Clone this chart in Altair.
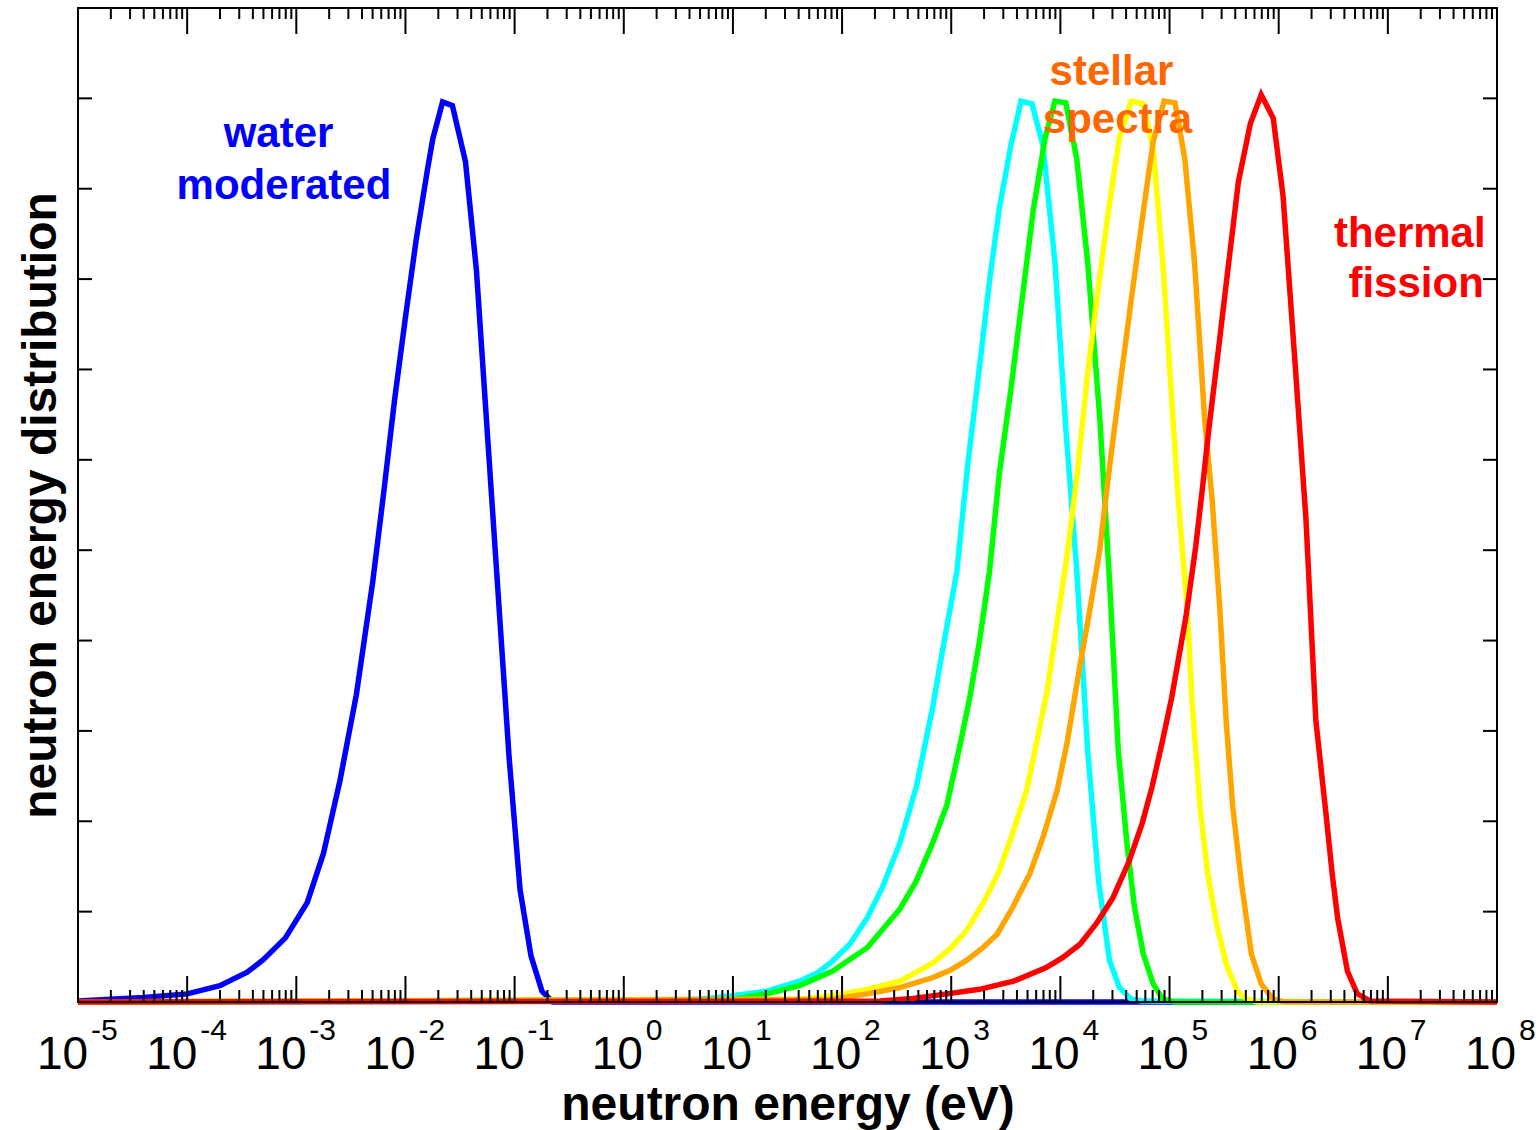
import altair as alt
import pandas as pd

# ---------------- data ----------------
# x values are log10(energy / eV); y values are the normalised distribution
BLUE_LOG = [-5.0, -4.7, -4.4, -4.0, -3.7, -3.45, -3.3, -3.1, -2.9, -2.75,
            -2.6, -2.45, -2.3, -2.2, -2.1, -2.0, -1.9, -1.8, -1.75, -1.66,
            -1.57, -1.45, -1.35, -1.25, -1.15, -1.05, -0.95, -0.85, -0.75, -0.65, 8.0]
BLUE_VAL = [0.001, 0.003, 0.005, 0.009, 0.018, 0.033, 0.047, 0.071, 0.11, 0.165,
            0.245, 0.34, 0.465, 0.563, 0.666, 0.758, 0.845, 0.92, 0.955, 0.996,
            0.992, 0.93, 0.81, 0.63, 0.45, 0.27, 0.124, 0.051, 0.012, 0.0, 0.0]

CYAN_LOG = [-5, 0.39, 0.70, 1.0, 1.31, 1.61, 1.77, 1.91, 2.07, 2.23,
            2.37, 2.53, 2.68, 2.83, 2.92, 3.05, 3.15, 3.26, 3.35, 3.44,
            3.55, 3.64, 3.74, 3.84, 3.95, 4.05, 4.15, 4.25, 4.35, 4.45,
            4.54, 4.65, 4.75, 8]
CYAN_VAL = [0, 0.001, 0.003, 0.007, 0.012, 0.023, 0.032, 0.045, 0.064, 0.093,
            0.127, 0.176, 0.238, 0.326, 0.389, 0.475, 0.593, 0.704, 0.797, 0.878,
            0.95, 0.997, 0.994, 0.948, 0.819, 0.634, 0.478, 0.278, 0.134, 0.046,
            0.016, 0.003, 0.001, 0]

GREEN_LOG = [-5, 1.0, 1.31, 1.61, 1.91, 2.23, 2.53, 2.68, 2.83, 2.96,
             3.08, 3.17, 3.26, 3.35, 3.44, 3.55, 3.65, 3.75, 3.86, 3.95,
             4.05, 4.15, 4.25, 4.36, 4.45, 4.53, 4.61, 4.68, 4.76, 4.85,
             4.94, 5.05, 8]
GREEN_VAL = [0, 0.003, 0.009, 0.018, 0.034, 0.060, 0.103, 0.134, 0.176, 0.218,
             0.284, 0.337, 0.40, 0.476, 0.584, 0.681, 0.778, 0.875, 0.956, 0.997,
             0.995, 0.933, 0.819, 0.648, 0.467, 0.279, 0.175, 0.104, 0.053, 0.020,
             0.003, 0, 0]

YELLOW_LOG = [-5, 1.61, 1.91, 2.23, 2.53, 2.68, 2.83, 2.99, 3.14, 3.29,
              3.44, 3.56, 3.69, 3.78, 3.88, 3.97, 4.06, 4.15, 4.25, 4.34,
              4.44, 4.54, 4.65, 4.76, 4.85, 4.94, 5.03, 5.08, 5.16, 5.21,
              5.28, 5.35, 5.43, 5.52, 5.62, 5.71, 5.81, 8]
YELLOW_VAL = [0, 0.003, 0.007, 0.014, 0.023, 0.033, 0.043, 0.059, 0.079, 0.109,
              0.145, 0.186, 0.234, 0.286, 0.345, 0.42, 0.493, 0.58, 0.696, 0.784,
              0.875, 0.956, 0.997, 0.994, 0.944, 0.815, 0.648, 0.556, 0.437, 0.326,
              0.215, 0.142, 0.087, 0.042, 0.012, 0.003, 0, 0]

ORANGE_LOG = [-5, 1.91, 2.23, 2.53, 2.83, 2.99, 3.14, 3.29, 3.42, 3.56,
              3.72, 3.84, 3.97, 4.06, 4.18, 4.27, 4.36, 4.45, 4.55, 4.65,
              4.76, 4.85, 4.95, 5.05, 5.14, 5.23, 5.32, 5.39, 5.46, 5.52,
              5.58, 5.66, 5.75, 5.84, 5.95, 6.05, 8]
ORANGE_VAL = [0, 0.003, 0.009, 0.016, 0.027, 0.035, 0.046, 0.060, 0.075, 0.104,
              0.142, 0.182, 0.234, 0.286, 0.373, 0.434, 0.50, 0.592, 0.686, 0.778,
              0.875, 0.952, 0.997, 0.995, 0.933, 0.817, 0.648, 0.556, 0.437, 0.309,
              0.215, 0.131, 0.053, 0.020, 0.003, 0, 0]

RED_LOG = [-5, 2.35, 2.65, 2.96, 3.26, 3.57, 3.87, 4.02, 4.18, 4.33,
           4.48, 4.63, 4.75, 4.84, 4.93, 5.02, 5.15, 5.24, 5.30, 5.36,
           5.45, 5.54, 5.63, 5.74, 5.84, 5.95, 6.04, 6.15, 6.25, 6.34,
           6.43, 6.49, 6.54, 6.63, 6.72, 6.84, 8]
RED_VAL = [0, 0.001, 0.004, 0.009, 0.014, 0.023, 0.038, 0.049, 0.064, 0.087,
           0.115, 0.156, 0.198, 0.238, 0.286, 0.337, 0.426, 0.504, 0.567, 0.634,
           0.724, 0.816, 0.907, 0.972, 1.004, 0.978, 0.892, 0.707, 0.534, 0.312,
           0.212, 0.142, 0.093, 0.034, 0.009, 0.001, 0]

SERIES_NAMES = ["blue", "cyan", "green", "yellow", "orange", "red"]
SERIES_COLORS = ["#0000ff", "#00ffff", "#00ff00", "#ffff00", "#ffa500", "#ff0000"]
SERIES_LOG = [BLUE_LOG, CYAN_LOG, GREEN_LOG, YELLOW_LOG, ORANGE_LOG, RED_LOG]
SERIES_VAL = [BLUE_VAL, CYAN_VAL, GREEN_VAL, YELLOW_VAL, ORANGE_VAL, RED_VAL]

# annotations
NOTE_TEXT = ["water", "moderated", "stellar", "spectra", "thermal", "fission"]
NOTE_LOG = [-3.163, -3.113, 4.468, 4.523, 7.201, 7.259]
NOTE_VAL = [0.946, 0.889, 1.015, 0.962, 0.836, 0.780]
NOTE_COLOR = ["#0000ff", "#0000ff", "#ff6600", "#ff6600", "#ff0000", "#ff0000"]

# axis ticks / labels
TICK_EXPONENTS = [-5, -4, -3, -2, -1, 0, 1, 2, 3, 4, 5, 6, 7, 8]
MINOR_MULT = [2, 3, 4, 5, 6, 7, 8, 9]
Y_TICKS = [0.1, 0.2, 0.3, 0.4, 0.5, 0.6, 0.7, 0.8, 0.9, 1.0]

X_TITLE = "neutron energy (eV)"
Y_TITLE = "neutron energy distribution"

# ---------------- tables ----------------
rows = []
for name, logs, vals in zip(SERIES_NAMES, SERIES_LOG, SERIES_VAL):
    for i, (l, v) in enumerate(zip(logs, vals)):
        rows.append({"series": name, "idx": i, "E": 10.0 ** l, "v": v})
curves = pd.DataFrame(rows)

notes = pd.DataFrame({"E": [10.0 ** l for l in NOTE_LOG], "v": NOTE_VAL,
                      "text": NOTE_TEXT, "color": NOTE_COLOR})

major = pd.DataFrame({"E": [10.0 ** k for k in TICK_EXPONENTS]})
minor = pd.DataFrame({"E": [m * 10.0 ** k for k in TICK_EXPONENTS[:-1] for m in MINOR_MULT]})
labels_neg = pd.DataFrame({"E": [10.0 ** k for k in TICK_EXPONENTS if k < 0],
                           "base": ["10" for k in TICK_EXPONENTS if k < 0],
                           "exp": [str(k) for k in TICK_EXPONENTS if k < 0]})
labels_pos = pd.DataFrame({"E": [10.0 ** k for k in TICK_EXPONENTS if k >= 0],
                           "base": ["10" for k in TICK_EXPONENTS if k >= 0],
                           "exp": [str(k) for k in TICK_EXPONENTS if k >= 0]})
yticks = pd.DataFrame({"v": Y_TICKS})

# ---------------- layout ----------------
W, H = 1419, 994
FONT = "Liberation Sans"

x_scale = alt.Scale(type="log", domain=[1e-5, 1e8], nice=False)
y_scale = alt.Scale(domain=[0, 1.1], nice=False, zero=False)
X_AXIS = alt.Axis(title=X_TITLE, labels=False, ticks=False, domain=False, grid=False,
                  titleFont=FONT, titleFontSize=48, titleFontWeight="bold",
                  titleColor="black", titlePadding=79)
Y_AXIS = alt.Axis(title=Y_TITLE, labels=False, ticks=False, domain=False, grid=False,
                  titleFont=FONT, titleFontSize=48, titleFontWeight="bold",
                  titleColor="black", titlePadding=13)

X = alt.X("E:Q", scale=x_scale, axis=X_AXIS)
Y = alt.Y("v:Q", scale=y_scale, axis=Y_AXIS)

layers = []
for name, color in zip(SERIES_NAMES, SERIES_COLORS):
    layers.append(
        alt.Chart(curves).transform_filter(alt.datum.series == name)
        .mark_line(color=color, strokeWidth=5.5, strokeJoin="miter", strokeMiterLimit=20)
        .encode(x=X, y=Y, order="idx:Q")
    )

# ticks (inward) on all four sides
def vrule(df, y0, y1):
    return alt.Chart(df).mark_rule(color="black", strokeWidth=2).encode(
        x=X, y=alt.value(y0), y2=alt.value(y1))

layers += [
    vrule(major, H, H - 26), vrule(minor, H, H - 12),
    vrule(major, 0, 26), vrule(minor, 0, 11),
    alt.Chart(yticks).mark_rule(color="black", strokeWidth=2).encode(
        y=Y, x=alt.value(0), x2=alt.value(14)),
    alt.Chart(yticks).mark_rule(color="black", strokeWidth=2).encode(
        y=Y, x=alt.value(W - 14), x2=alt.value(W)),
    alt.Chart(major).mark_rule(color="black", strokeWidth=2).encode(
        x=alt.value(0), x2=alt.value(W), y=alt.value(H)),
]

# tick labels 10^k
def lab(df, field, dx, ybase, size):
    return alt.Chart(df).mark_text(align="left", baseline="alphabetic", dx=dx,
                                   font=FONT, fontSize=size, color="black").encode(
        x=X, y=alt.value(ybase), text=f"{field}:N")

layers += [
    lab(labels_neg, "base", -41, H + 67, 46),
    lab(labels_neg, "exp", 13, H + 38, 30),
    lab(labels_pos, "base", -32, H + 67, 46),
    lab(labels_pos, "exp", 22, H + 38, 30),
]

# annotations
layers.append(
    alt.Chart(notes).mark_text(align="center", baseline="alphabetic", font=FONT,
                               fontSize=42, fontWeight="bold").encode(
        x=X, y=Y, text="text:N", color=alt.Color("color:N", scale=None))
)

chart = alt.layer(*layers).properties(
    width=W, height=H,
    padding={"left": 78, "top": 8, "right": 42, "bottom": 128},
    autosize=alt.AutoSizeParams(type="none"),
    background="white",
).configure_view(stroke="black", strokeWidth=2)

chart.save("out.html", embed_options={"renderer": "svg", "actions": False})
